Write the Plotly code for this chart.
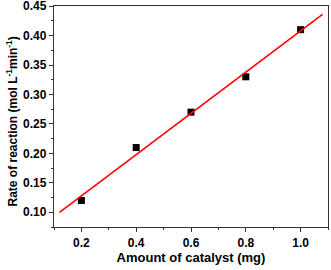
import numpy as np
import plotly.graph_objects as go

catalyst_mg = [0.2, 0.4, 0.6, 0.8, 1.0]
rate = [0.12, 0.21, 0.27, 0.33, 0.41]
fit_x_range = [0.12, 1.08]

slope, intercept = np.polyfit(catalyst_mg, rate, 1)
fit_x = np.array(fit_x_range)
fit_y = slope * fit_x + intercept

font_family = "Liberation Sans, Arial, sans-serif"

fig = go.Figure()
fig.add_trace(go.Scatter(x=catalyst_mg, y=rate, mode="markers",
                         marker=dict(symbol="square", size=7, color="black"),
                         showlegend=False, cliponaxis=False))
fig.add_trace(go.Scatter(x=fit_x, y=fit_y, mode="lines",
                         line=dict(color="#ff0000", width=1.6),
                         showlegend=False))

axis_common = dict(showline=True, linecolor="#333333", linewidth=1.3, mirror=True,
                   ticks="outside", ticklen=4, tickwidth=1, tickcolor="#333333",
                   showgrid=False, zeroline=False, automargin=False,
                   ticklabeloverflow="allow",
                   tickfont=dict(family=font_family, size=12, color="black", weight="bold"))

fig.update_layout(
    width=331, height=270,
    margin=dict(l=54, r=3, t=6, b=43),
    paper_bgcolor="white", plot_bgcolor="white",
    font=dict(family=font_family, color="black"),
    xaxis=dict(range=[0.1, 1.1], tickvals=[0.2, 0.4, 0.6, 0.8, 1.0],
               ticktext=["0.2", "0.4", "0.6", "0.8", "1.0"],
               minor=dict(ticks="outside", ticklen=2, dtick=0.1, tick0=0.1, tickcolor="#333333"),
               title=dict(text="<b>Amount of catalyst (mg)</b>", standoff=2,
                          font=dict(family=font_family, size=13, color="black")),
               **axis_common),
    yaxis=dict(range=[0.075, 0.4502], tickvals=[0.10, 0.15, 0.20, 0.25, 0.30, 0.35, 0.40, 0.45],
               ticktext=["0.10", "0.15", "0.20", "0.25", "0.30", "0.35", "0.40", "0.45"],
               minor=dict(ticks="outside", ticklen=2, dtick=0.025, tick0=0.075, tickcolor="#333333"),
               **axis_common),
    annotations=[dict(text="<b>Rate of reaction (mol L<sup>-1</sup>min<sup>-1</sup>)</b>",
                      xref="paper", yref="paper", x=0, y=0.5, xanchor="center", yanchor="middle",
                      xshift=-43, yshift=-5, textangle=-90, showarrow=False,
                      font=dict(family=font_family, size=12, color="black"))],
)

fig.write_html("out.html", config={"displayModeBar": False},
               post_script="document.body.style.margin='0px';document.body.style.overflow='hidden';")
